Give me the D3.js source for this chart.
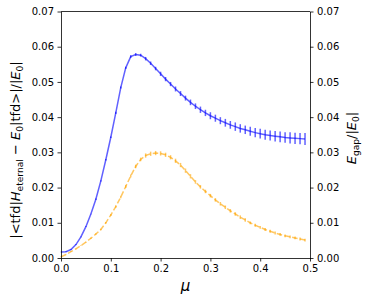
<!DOCTYPE html>
<meta charset="utf-8">
<script src="https://cdn.jsdelivr.net/npm/d3@7"></script>
<style>
  body { margin: 0; background: #fff; }
  text { font-family: 'DejaVu Sans', sans-serif; fill: #000; }
</style>
<body>
<div id="chart"></div>
<script>
// mu grid 0.00 .. 0.49
var mu = d3.range(50).map(function(i) { return i / 100; });

var tfdEnergy = [
  0.0017, 0.0018, 0.0024, 0.0038, 0.0060, 0.0089, 0.0125, 0.0167, 0.0219, 0.0279,
  0.0343, 0.0412, 0.0484, 0.0540, 0.0572, 0.0578, 0.0576, 0.0566, 0.0553, 0.0538,
  0.0523, 0.0508, 0.0494, 0.0480, 0.0467, 0.0454, 0.0442, 0.0431, 0.0421, 0.0412,
  0.0404, 0.0397, 0.0390, 0.0384, 0.0378, 0.0373, 0.0368, 0.0364, 0.0360, 0.0356,
  0.0353, 0.0350, 0.0348, 0.0346, 0.0344, 0.0342, 0.0341, 0.0340, 0.0339, 0.0338
];
var tfdErr = [
  0.0001, 0.0001, 0.0001, 0.0001, 0.0001, 0.0001, 0.0001, 0.0002, 0.0002, 0.0002,
  0.0002, 0.0003, 0.0003, 0.0003, 0.0004, 0.0004, 0.0004, 0.0005, 0.0005, 0.0005,
  0.0006, 0.0006, 0.0006, 0.0007, 0.0007, 0.0007, 0.0008, 0.0008, 0.0009, 0.0009,
  0.0010, 0.0010, 0.0010, 0.0011, 0.0011, 0.0012, 0.0012, 0.0012, 0.0013, 0.0013,
  0.0014, 0.0014, 0.0014, 0.0015, 0.0015, 0.0015, 0.0016, 0.0016, 0.0016, 0.0017
];
var gap = [
  0.0003, 0.0010, 0.0018, 0.0026, 0.0035, 0.0045, 0.0056, 0.0068, 0.0081, 0.0100,
  0.0122, 0.0146, 0.0173, 0.0203, 0.0233, 0.0260, 0.0280, 0.0291, 0.0296, 0.0298,
  0.0297, 0.0293, 0.0286, 0.0276, 0.0264, 0.0248, 0.0232, 0.0216, 0.0202, 0.0189,
  0.0177, 0.0165, 0.0154, 0.0144, 0.0134, 0.0125, 0.0116, 0.0108, 0.0100, 0.0093,
  0.0087, 0.0081, 0.0076, 0.0071, 0.0067, 0.0063, 0.0060, 0.0057, 0.0054, 0.0051
];
var gapErr = [
  0.0001, 0.0001, 0.0001, 0.0001, 0.0001, 0.0001, 0.0002, 0.0002, 0.0002, 0.0002,
  0.0003, 0.0003, 0.0003, 0.0004, 0.0004, 0.0005, 0.0005, 0.0006, 0.0006, 0.0006,
  0.0006, 0.0006, 0.0006, 0.0006, 0.0006, 0.0006, 0.0006, 0.0005, 0.0005, 0.0005,
  0.0005, 0.0005, 0.0005, 0.0005, 0.0005, 0.0005, 0.0005, 0.0005, 0.0004, 0.0004,
  0.0004, 0.0004, 0.0004, 0.0004, 0.0004, 0.0004, 0.0004, 0.0004, 0.0004, 0.0004
];
var xTicks = [0, 0.1, 0.2, 0.3, 0.4, 0.5];
var yTicks = [0, 0.01, 0.02, 0.03, 0.04, 0.05, 0.06, 0.07];

var width = 371, height = 304;
var margin = { top: 11.5, right: 61, bottom: 46, left: 61 };
var w = width - margin.left - margin.right,
    h = height - margin.top - margin.bottom;

var svg = d3.select("#chart").append("svg")
    .attr("width", width)
    .attr("height", height);

var g = svg.append("g")
    .attr("transform", "translate(" + margin.left + "," + margin.top + ")");

var x = d3.scaleLinear().domain([0, 0.5]).range([0, w]);
var y = d3.scaleLinear().domain([0, 0.07]).range([h, 0]);

function drawSeries(vals, errs, color, dashed) {
    var pts = mu.map(function(m, i) { return { m: m, v: vals[i], e: errs[i] }; });
    var line = d3.line()
        .x(function(d) { return x(d.m); })
        .y(function(d) { return y(d.v); });
    g.append("path")
        .datum(pts)
        .attr("d", line)
        .attr("fill", "none")
        .attr("stroke", color)
        .attr("stroke-opacity", 0.62)
        .attr("stroke-width", 1.5)
        .attr("stroke-dasharray", dashed ? "5.55,2.4" : null);
    g.selectAll(null)
        .data(pts)
        .enter().append("line")
        .attr("x1", function(d) { return x(d.m); })
        .attr("x2", function(d) { return x(d.m); })
        .attr("y1", function(d) { return y(d.v - d.e); })
        .attr("y2", function(d) { return y(d.v + d.e); })
        .attr("stroke", color)
        .attr("stroke-opacity", 0.62)
        .attr("stroke-width", 1.5);
}

drawSeries(tfdEnergy, tfdErr, "blue", false);
drawSeries(gap, gapErr, "orange", true);

function styleAxis(sel) {
    sel.selectAll("path").attr("stroke", "#000").attr("stroke-width", 0.8);
    sel.selectAll("line").attr("stroke", "#000").attr("stroke-width", 0.8);
    sel.selectAll("text").style("font-size", "10px").attr("fill", "#000");
}

var fmt = d3.format(".2f");

g.append("g")
    .attr("transform", "translate(0," + h + ")")
    .call(d3.axisBottom(x).tickValues(xTicks).tickFormat(d3.format(".1f"))
        .tickSize(3.5).tickPadding(3.5).tickSizeOuter(0))
    .call(styleAxis);

g.append("g")
    .call(d3.axisLeft(y).tickValues(yTicks).tickFormat(fmt)
        .tickSize(3.5).tickPadding(3.5).tickSizeOuter(0))
    .call(styleAxis);

g.append("g")
    .attr("transform", "translate(" + w + ",0)")
    .call(d3.axisRight(y).tickValues(yTicks).tickFormat(fmt)
        .tickSize(3.5).tickPadding(3.5).tickSizeOuter(0))
    .call(styleAxis);

// top spine
g.append("line")
    .attr("x1", 0).attr("x2", w).attr("y1", 0).attr("y2", 0)
    .attr("stroke", "#000").attr("stroke-width", 0.8);

// x label
svg.append("text")
    .attr("x", margin.left + w / 2)
    .attr("y", 291)
    .attr("text-anchor", "middle")
    .style("font-size", "15px")
    .style("font-style", "italic")
    .text("\u03bc");

// helper: label pieces [text, italic, subscript]
function addLabel(parts, tx, ty, size) {
    var t = svg.append("text")
        .attr("transform", "translate(" + tx + "," + ty + ") rotate(-90)")
        .attr("text-anchor", "middle")
        .style("font-size", size + "px");
    var sub = false;
    parts.forEach(function(p) {
        var s = t.append("tspan").text(p[0]);
        if (p[1]) s.style("font-style", "italic");
        if (p[2] && !sub) { s.attr("dy", size * 0.2).style("font-size", (size * 0.7) + "px"); sub = true; }
        else if (p[2]) { s.style("font-size", (size * 0.7) + "px"); }
        else if (sub) { s.attr("dy", -size * 0.2); sub = false; }
    });
}

addLabel([
    ["|<tfd|", false, false],
    ["H", true, false],
    ["eternal", false, true],
    [" \u2212 ", false, false],
    ["E", true, false],
    ["0", false, true],
    ["|tfd>|/|", false, false],
    ["E", true, false],
    ["0", false, true],
    ["|", false, false]
], 20, 150, 13);

addLabel([
    ["E", true, false],
    ["gap", false, true],
    ["/|", false, false],
    ["E", true, false],
    ["0", false, true],
    ["|", false, false]
], 356, 138, 13);
</script>
</body>
